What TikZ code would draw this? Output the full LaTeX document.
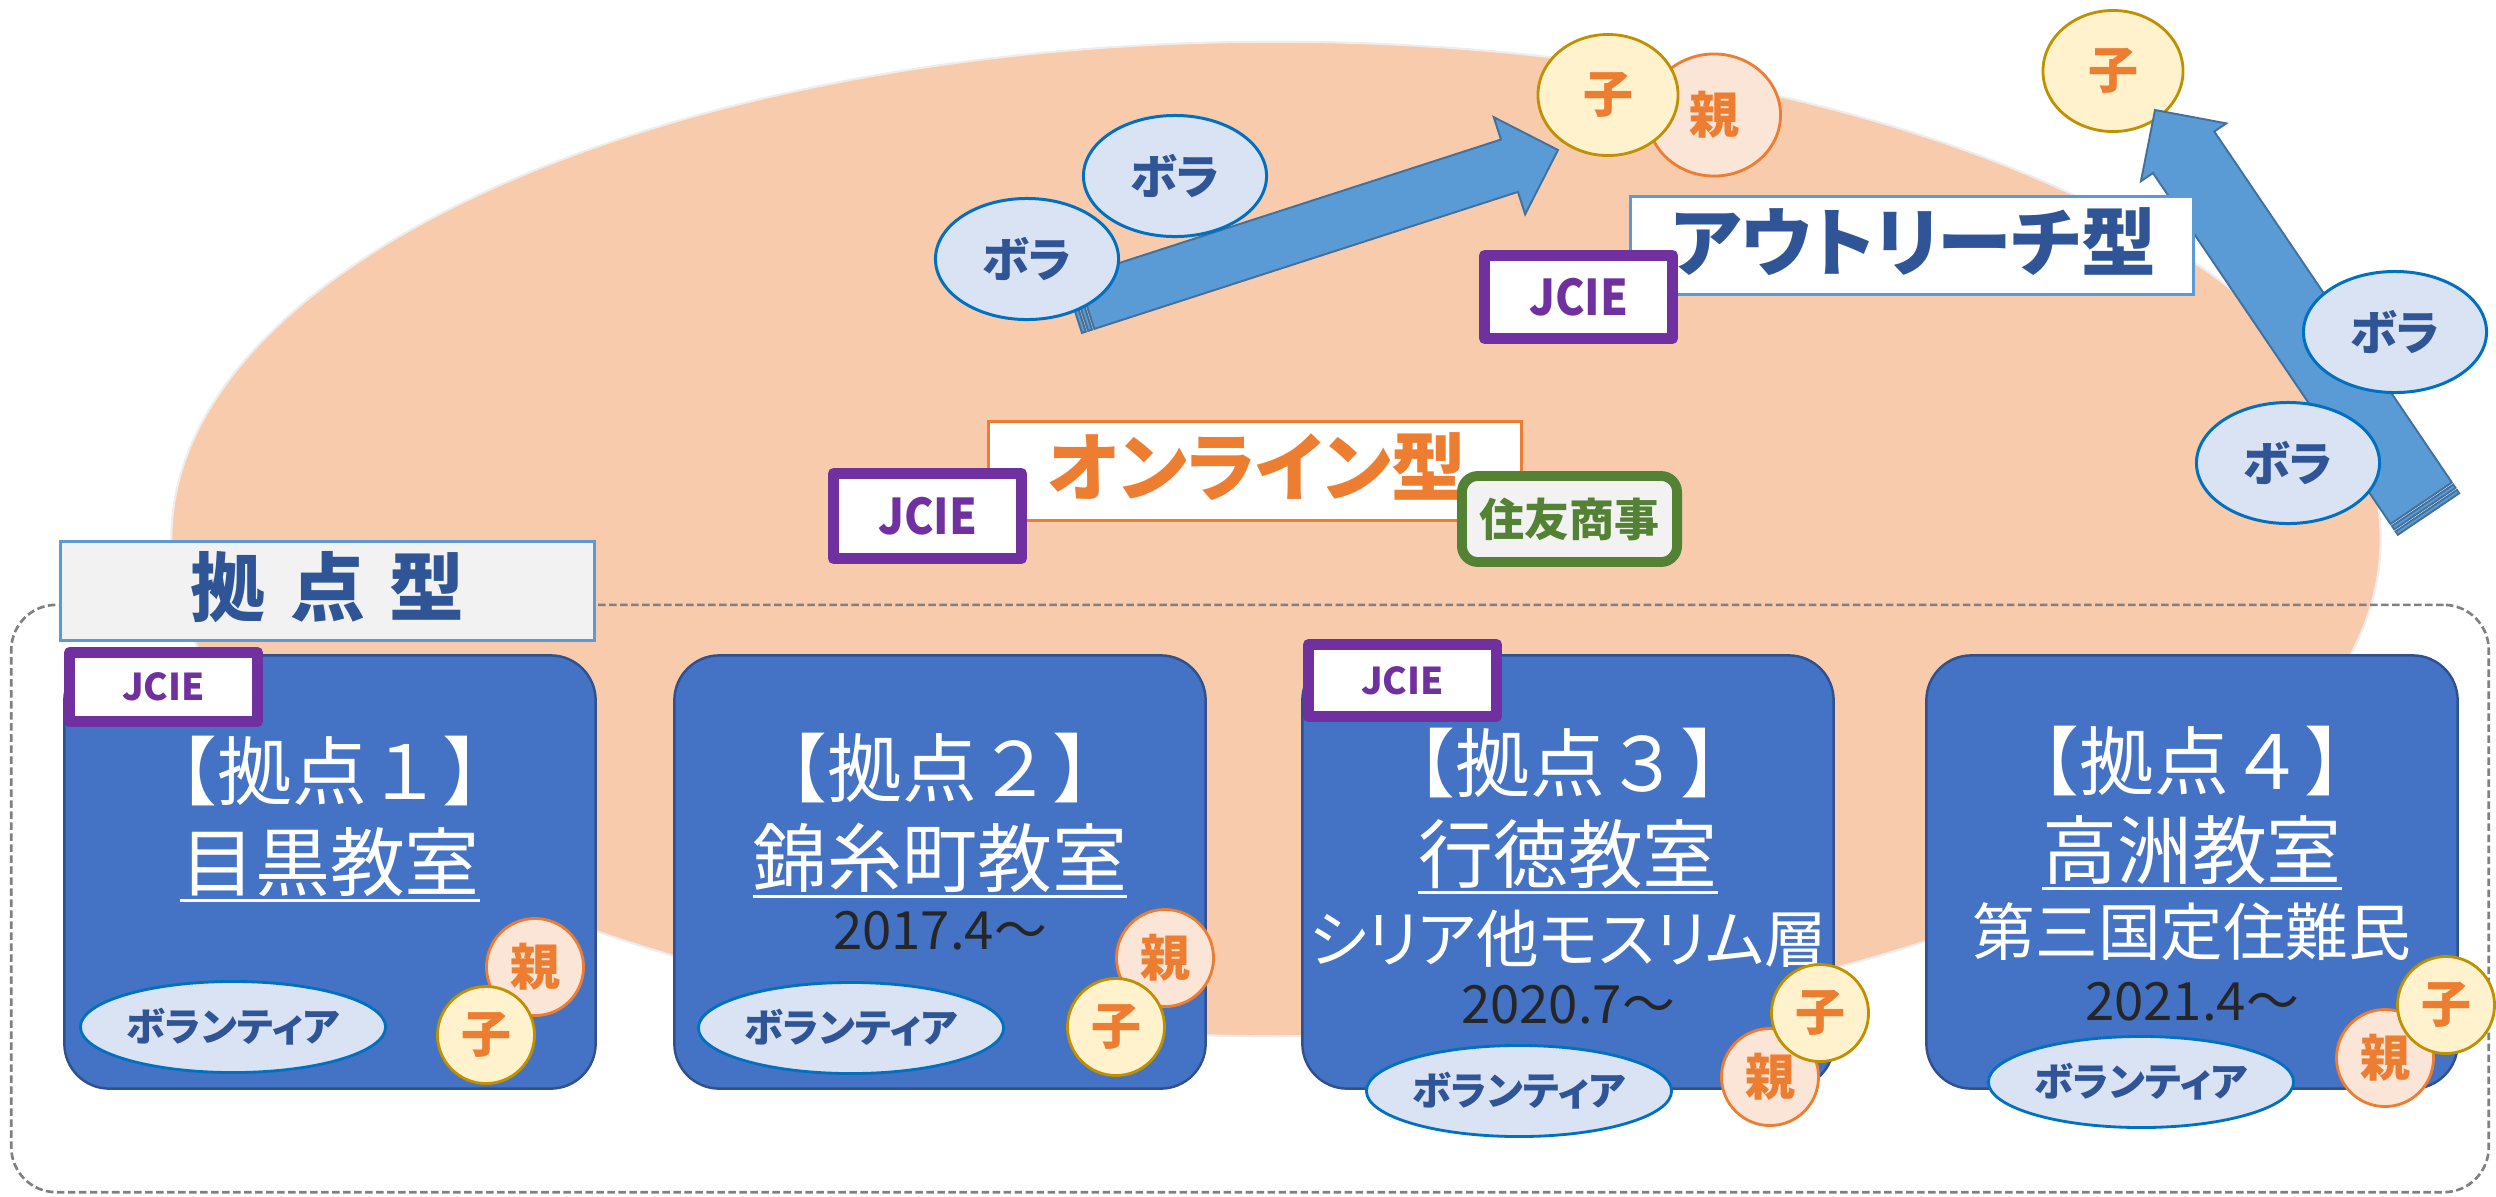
\documentclass[tikz,border=0pt]{standalone}
\usepackage{fontspec}
\usetikzlibrary{calc,shapes.geometric}
\newfontfamily\jp{Noto Sans CJK JP}
\newfontfamily\jpp{Noto Sans CJK JP}[RawFeature=+palt]
\definecolor{peach}{HTML}{F8CBAD}
\definecolor{boxblue}{HTML}{4472C4}
\definecolor{boxedge}{HTML}{2F528F}
\definecolor{darkblue}{HTML}{2F5597}
\definecolor{lightblue}{HTML}{DAE3F3}
\definecolor{voledge}{HTML}{0070C0}
\definecolor{myorange}{HTML}{ED7D31}
\definecolor{kofill}{HTML}{FFF2CC}
\definecolor{koedge}{HTML}{BF9000}
\definecolor{oyafill}{HTML}{FBE5D6}
\definecolor{purp}{HTML}{7030A0}
\definecolor{grn}{HTML}{548235}
\definecolor{lgray}{HTML}{F2F2F2}
\definecolor{arrfill}{HTML}{5B9BD5}
\definecolor{arredge}{HTML}{41719C}
\definecolor{titleedge}{HTML}{5B9BD5}
\definecolor{datecol}{HTML}{262626}
\definecolor{dashgray}{HTML}{808080}
\newcommand{\stripearrow}[5]{%
  \coordinate (#1n) at ($(#2)!#5!(#1)$);
  \coordinate (#1s) at ($(#1)!0.13cm!(#2)$);
  \coordinate (#1a) at ($(#1)!0.04cm!(#2)$);
  \coordinate (#1b) at ($(#1)!0.065cm!(#2)$);
  \coordinate (#1c) at ($(#1)!0.105cm!(#2)$);
  \filldraw[arrowsty] ($(#1)!#3!90:(#2)$) -- ($(#1a)!#3!90:(#2)$) -- ($(#1a)!#3!-90:(#2)$) -- ($(#1)!#3!-90:(#2)$) -- cycle;
  \filldraw[arrowsty] ($(#1b)!#3!90:(#2)$) -- ($(#1c)!#3!90:(#2)$) -- ($(#1c)!#3!-90:(#2)$) -- ($(#1b)!#3!-90:(#2)$) -- cycle;
  \filldraw[arrowsty] ($(#1s)!#3!90:(#2)$) -- ($(#1n)!#3!90:(#2)$) -- ($(#1n)!#4!90:(#2)$) -- (#2) -- ($(#1n)!#4!-90:(#2)$) -- ($(#1n)!#3!-90:(#2)$) -- ($(#1s)!#3!-90:(#2)$) -- cycle;
}
\begin{document}
\begin{tikzpicture}[x=0.01cm, y=-0.01cm,
  every node/.style={inner sep=0pt, outer sep=0pt},
  bg/.style={ellipse, fill=peach, draw=black!7, line width=0.6pt},
  frame/.style={draw=dashgray, line width=0.75pt, dash pattern=on 0.075cm off 0.035cm, rounded corners=0.45cm},
  titlebox/.style={draw=titleedge, line width=0.85pt},
  basebox/.style={draw=boxedge, fill=boxblue, line width=0.7pt, rounded corners=0.45cm, minimum width=5.31cm, minimum height=4.33cm},
  jcie/.style={draw=purp, fill=white, line width=3.1pt, line join=round, minimum width=1.88cm, text=purp},
  bigline/.style={font=\jp\fontsize{21.3}{24}\selectfont, text=white, anchor=base},
  midline/.style={font=\jp\fontsize{17.8}{20}\selectfont, text=white, anchor=base},
  dateline/.style={font=\jp\fontsize{15}{17}\selectfont, text=datecol, anchor=base},
  uline/.style={draw=white, line width=0.85pt},
  vol/.style={ellipse, draw=voledge, fill=lightblue, line width=0.8pt, minimum width=3.05cm, minimum height=0.91cm, font=\jpp\bfseries\fontsize{11.2}{13}\selectfont, text=darkblue},
  kosm/.style={circle, draw=koedge, fill=kofill, line width=0.8pt, minimum size=0.97cm, font=\jp\bfseries\fontsize{14.2}{16}\selectfont, text=myorange},
  oyasm/.style={circle, draw=myorange, fill=oyafill, line width=0.8pt, minimum size=0.97cm, font=\jp\bfseries\fontsize{14.2}{16}\selectfont, text=myorange},
  kotop/.style={kosm, ellipse, minimum width=1.4cm, minimum height=1.21cm},
  oyatop/.style={oyasm, ellipse, minimum width=1.33cm, minimum height=1.22cm},
  bora/.style={ellipse, draw=voledge, fill=lightblue, line width=0.85pt, minimum width=1.83cm, minimum height=1.21cm, font=\jpp\bfseries\fontsize{13.5}{15}\selectfont, text=darkblue},
  arrowsty/.style={fill=arrfill, draw=arredge, line width=0.55pt, line join=miter},
]
\useasboundingbox (0,0) rectangle (2496,1196);
% background ellipse and frame
\node[bg, minimum width=22.08cm, minimum height=9.94cm] (cloud) at (1276,539) {};
\node[frame, minimum width=24.76cm, minimum height=5.87cm] (kyoten) at (1250,898.5) {};
\node[titlebox, fill=lgray, minimum width=5.34cm, minimum height=0.99cm] (kyotentitle) at (327.5,591) {};
\node[anchor=base, font=\jp\bfseries\fontsize{21.3}{24}\selectfont, text=darkblue] (kyotentext) at (327.5,615) {拠\hspace{0.33em}点\hspace{0.33em}型};

% base boxes
\node[basebox] (b1) at (330,872) {};
\node[basebox] (b2) at (940,872) {};
\node[basebox] (b3) at (1568,872) {};
\node[basebox] (b4) at (2192,872) {};

\node[bigline] (b1l1) at (330,799) {【拠点１】};
\node[bigline] (b1l2) at (330,890) {目黒教室};
\draw[uline] ([yshift=-0.1cm]b1l2.base west) -- ([yshift=-0.1cm]b1l2.base east);

\node[bigline] (b2l1) at (940,796) {【拠点２】};
\node[bigline] (b2l2) at (940,886) {錦糸町教室};
\draw[uline] ([yshift=-0.1cm]b2l2.base west) -- ([yshift=-0.1cm]b2l2.base east);
\node[dateline] (b2d) at (940,949) {2017.4～};

\node[bigline] (b3l1) at (1568,791) {【拠点３】};
\node[bigline] (b3l2) at (1568,882) {行徳教室};
\draw[uline] ([yshift=-0.1cm]b3l2.base west) -- ([yshift=-0.1cm]b3l2.base east);
\node[midline, font=\jpp\fontsize{17.8}{20}\selectfont] (b3l3) at (1568,962) {シリア他モスリム層};
\node[dateline] (b3d) at (1568,1023) {2020.7～};

\node[bigline] (b4l1) at (2192,789) {【拠点４】};
\node[bigline] (b4l2) at (2192,878) {高洲教室};
\draw[uline] ([yshift=-0.1cm]b4l2.base west) -- ([yshift=-0.1cm]b4l2.base east);
\node[midline] (b4l3) at (2192,955) {第三国定住難民};
\node[dateline] (b4d) at (2192,1020) {2021.4～};

% JCIE tags on boxes
\node[jcie, minimum height=0.69cm, font=\jp\bfseries\fontsize{10.5}{12}\selectfont] (j1) at (163.5,687) {JCIE};
\node[jcie, minimum height=0.72cm, font=\jp\bfseries\fontsize{10.5}{12}\selectfont] (j3) at (1402.5,680.5) {JCIE};

% volunteers, parents, children in boxes
\node[vol] (v1) at (233,1027) {ボランティア};
\node[vol] (v2) at (851,1028) {ボランティア};
\node[vol] (v3) at (1519,1091) {ボランティア};
\node[vol] (v4) at (2141,1082) {ボランティア};

\node[oyasm] (o1) at (535,967) {親};
\node[kosm] (k1) at (486,1035) {子};
\node[oyasm] (o2) at (1165,958) {親};
\node[kosm] (k2) at (1116,1027) {子};
\node[oyasm] (o3) at (1770,1077) {親};
\node[kosm] (k3) at (1820,1013) {子};
\node[oyasm] (o4) at (2385,1058) {親};
\node[kosm] (k4) at (2446,1005) {子};

% outreach child (behind arrow tip)
\node[kotop] (kout) at (2113,71) {子};

% arrows
\coordinate (a1t) at (1073.5,306.7);
\coordinate (a1p) at (1558,150);
\coordinate (a2t) at (2428.5,514);
\coordinate (a2p) at (2155,110);
\stripearrow{a1t}{a1p}{0.275cm}{0.51cm}{0.51cm}
\stripearrow{a2t}{a2p}{0.37cm}{0.515cm}{0.51cm}

% volunteers along arrows
\node[bora] (bo1) at (1027,259) {ボラ};
\node[bora] (bo2) at (1175,176) {ボラ};
\node[bora] (bo3) at (2395,332) {ボラ};
\node[bora] (bo4) at (2288,463) {ボラ};

% online type
\node[titlebox, draw=myorange, fill=white, minimum width=5.33cm, minimum height=0.99cm] (online) at (1255,471) {};
\node[anchor=base, font=\jpp\bfseries\fontsize{21.3}{24}\selectfont, text=myorange] (onlinetext) at (1257,495) {オンライン型};
\node[jcie, minimum height=0.85cm, font=\jp\bfseries\fontsize{14}{16}\selectfont] (j2) at (927.5,516) {\scalebox{0.9}[1]{JCIE}};
\node[draw=grn, fill=lgray, line width=2.8pt, rounded corners=0.16cm, minimum width=2.15cm, minimum height=0.86cm, font=\jp\bfseries\fontsize{12.8}{14}\selectfont, text=grn] (sumi) at (1569.5,519) {住友商事};

% outreach type
\node[titlebox, fill=white, minimum width=5.63cm, minimum height=0.98cm] (outreach) at (1912,245.5) {};
\node[anchor=base, font=\jpp\bfseries\fontsize{21.3}{24}\selectfont, text=darkblue] (outreachtext) at (1913.5,270) {アウトリーチ型};
\node[jcie, minimum height=0.83cm, font=\jp\bfseries\fontsize{14}{16}\selectfont] (j4) at (1578.5,297) {\scalebox{0.9}[1]{JCIE}};

% parent and child at top
\node[oyatop] (oyatop1) at (1714,115) {親};
\node[kotop] (kotop1) at (1608,95) {子};
\end{tikzpicture}
\end{document}
